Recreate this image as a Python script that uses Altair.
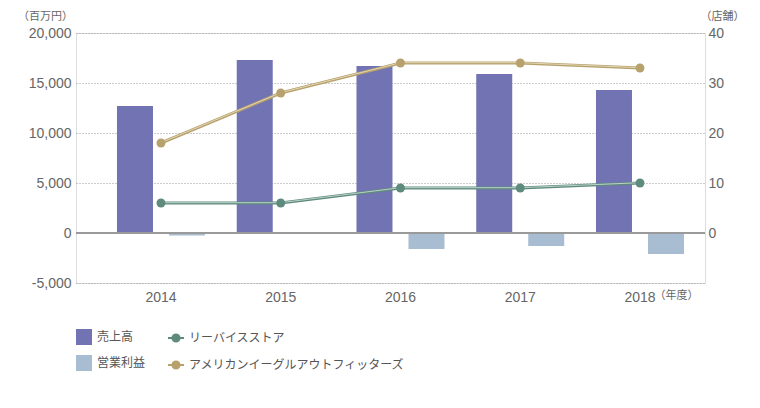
import altair as alt
import pandas as pd

years = ["2014", "2015", "2016", "2017", "2018"]
sales = [12700, 17300, 16700, 15900, 14300]
profit = [-250, 0, -1600, -1300, -2100]
levis = [6, 6, 9, 9, 10]
ae = [18, 28, 34, 34, 33]

bar_names = ["売上高", "営業利益"]
line_names = ["リーバイスストア", "アメリカンイーグルアウトフィッターズ"]
bar_colors = ["#7273b2", "#a8bcd2"]
line_colors = ["#5f8b7e", "#b7a16c"]
line_light = ["#c5d8d0", "#e6dbbd"]

bars_df = pd.DataFrame({
    "year": years * 2,
    "series": [bar_names[0]] * 5 + [bar_names[1]] * 5,
    "value": sales + profit,
})
lines_df = pd.DataFrame({
    "year": years * 2,
    "series": [line_names[0]] * 5 + [line_names[1]] * 5,
    "stores": levis + ae,
    "light": [line_light[0]] * 5 + [line_light[1]] * 5,
})

LABEL_FONT = "Liberation Sans"
JP_FONT = "Noto Sans CJK JP"
TXT = "#666666"

x_enc = alt.X(
    "year:N",
    sort=years,
    scale=alt.Scale(paddingInner=0, paddingOuter=0.1263, align=0.83, round=False),
    axis=alt.Axis(
        title="（年度）", titleX=578, titleY=12, titleAngle=0, titleAlign="left",
        titleBaseline="middle", titleFont=JP_FONT, titleFontSize=11, titleFontWeight="normal",
        titleColor=TXT, labelAngle=0, labelFont=LABEL_FONT, labelFontSize=14,
        labelColor=TXT, labelPadding=7, ticks=False, domain=False, grid=False,
    ),
)

y_left = alt.Y(
    "value:Q",
    scale=alt.Scale(domain=[-5000, 20000], nice=False, zero=False),
    axis=alt.Axis(
        values=[-5000, 0, 5000, 10000, 15000, 20000], format=",d",
        labelExpr="replace(datum.label, '\u2212', '-')",
        title="（百万円）", titleX=-31, titleY=-17, titleAngle=0, titleAlign="center",
        titleBaseline="middle", titleFont=JP_FONT, titleFontSize=11, titleFontWeight="normal",
        titleColor=TXT, labelFont=LABEL_FONT, labelFontSize=14, labelColor=TXT,
        labelPadding=5, ticks=False, domain=False, grid=True, gridDash=[1, 2],
        gridColor="#999999", gridWidth=1,
    ),
)

fill_enc = alt.Fill(
    "series:N",
    scale=alt.Scale(domain=bar_names, range=bar_colors),
    legend=alt.Legend(
        title=None, orient="none", legendX=0, legendY=296, direction="vertical",
        symbolType="square", symbolSize=256, symbolStrokeWidth=0, rowPadding=10,
        labelOffset=5, labelFont=JP_FONT, labelFontSize=12, labelColor="#555555",
        symbolOpacity=1, labelLimit=400,
    ),
)

sales_bar = alt.Chart(bars_df).transform_filter(
    alt.datum.series == bar_names[0]
).mark_bar(width=36, xOffset=-26).encode(x=x_enc, y=y_left, fill=fill_enc)

profit_bar = alt.Chart(bars_df).transform_filter(
    alt.datum.series == bar_names[1]
).mark_bar(width=36, xOffset=26).encode(x=x_enc, y=y_left, fill=fill_enc)

zero_rule = alt.Chart(bars_df).mark_rule(color="#9a9a9a", strokeWidth=1.5).encode(
    y=alt.datum(0)
)

left = alt.layer(sales_bar, profit_bar, zero_rule)

y_right = alt.Y(
    "stores:Q",
    scale=alt.Scale(domain=[-10, 40], nice=False, zero=False),
    axis=alt.Axis(
        orient="right", values=[0, 10, 20, 30, 40],
        title="（店舗）", titleX=17, titleY=-17, titleAngle=0, titleAlign="center",
        titleBaseline="middle", titleFont=JP_FONT, titleFontSize=11, titleFontWeight="normal",
        titleColor=TXT, labelFont=LABEL_FONT, labelFontSize=14, labelColor=TXT,
        labelPadding=3, ticks=False, domain=False, grid=False,
    ),
)

color_enc = alt.Color(
    "series:N",
    scale=alt.Scale(domain=line_names, range=line_colors),
    legend=alt.Legend(
        title=None, orient="none", legendX=91, legendY=296, direction="vertical",
        symbolType="M-1,0L-0.45,0M0.45,0L1,0M-0.45,0A0.45,0.45 0 1,0 0.45,0A0.45,0.45 0 1,0 -0.45,0Z",
        symbolSize=256, symbolStrokeWidth=2, rowPadding=10, labelOffset=4,
        labelFont=JP_FONT, labelFontSize=12, labelColor="#555555", labelLimit=400,
    ),
)

lines = alt.Chart(lines_df).mark_line(strokeWidth=3).encode(
    x=x_enc, y=y_right, color=color_enc, detail="series:N"
)
highlight = alt.Chart(lines_df).mark_line(strokeWidth=1, yOffset=-0.3, opacity=0.9).encode(
    x=x_enc, y=y_right, stroke=alt.Stroke("light:N", scale=None), detail="series:N"
)
points = alt.Chart(lines_df).mark_circle(size=80, opacity=1).encode(
    x=x_enc, y=y_right, color=color_enc
)

right = alt.layer(lines, highlight, points)

chart = alt.layer(left, right).resolve_scale(
    y="independent"
).properties(
    width=629, height=250,
    autosize=alt.AutoSizeParams(type="none"),
    padding={"left": 76, "top": 33, "right": 55, "bottom": 125},
).configure_view(stroke=None).configure(background="white")

chart.save("out.html", embed_options={"renderer": "svg", "actions": False})
